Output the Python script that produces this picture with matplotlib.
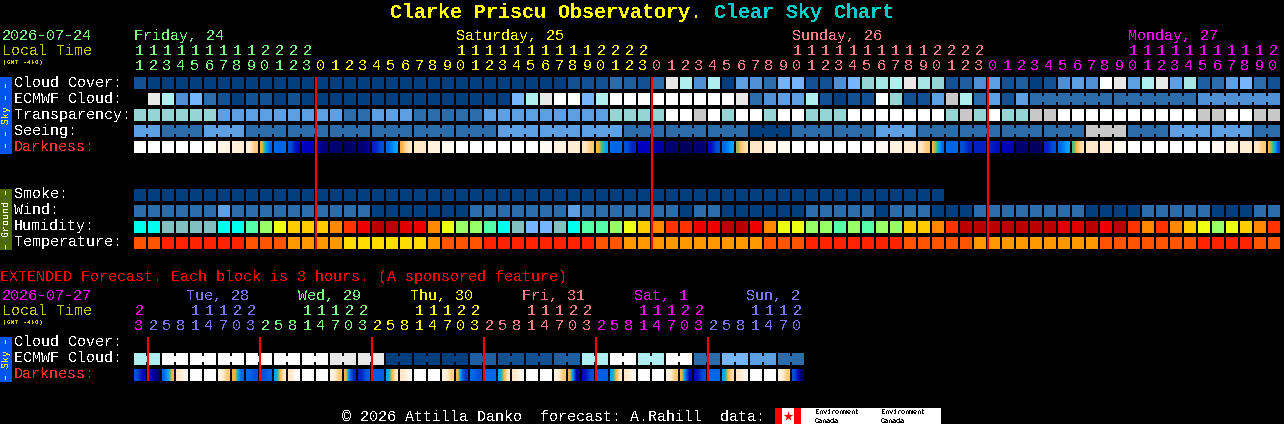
import matplotlib
matplotlib.use("Agg")
import matplotlib.pyplot as plt
from matplotlib.colors import LinearSegmentedColormap
from matplotlib.patches import Rectangle

plt.rcParams['font.family'] = ['Liberation Mono', 'DejaVu Sans Mono']
plt.rcParams['text.antialiased'] = False
plt.rcParams['text.hinting'] = 'native'
plt.rcParams['text.hinting_factor'] = 1

# ---- data ----
hours = [11, 12, 13, 14, 15, 16, 17, 18, 19, 20, 21, 22, 23,
         0, 1, 2, 3, 4, 5, 6, 7, 8, 9, 10, 11, 12, 13, 14, 15, 16, 17, 18, 19, 20, 21, 22, 23,
         0, 1, 2, 3, 4, 5, 6, 7, 8, 9, 10, 11, 12, 13, 14, 15, 16, 17, 18, 19, 20, 21, 22, 23,
         0, 1, 2, 3, 4, 5, 6, 7, 8, 9, 10, 11, 12, 13, 14, 15, 16, 17, 18, 19, 20]
ext_hours = [23,
             2, 5, 8, 11, 14, 17, 20, 23,
             2, 5, 8, 11, 14, 17, 20, 23,
             2, 5, 8, 11, 14, 17, 20, 23,
             2, 5, 8, 11, 14, 17, 20, 23,
             2, 5, 8, 11, 14, 17, 20, 23,
             2, 5, 8, 11, 14, 17, 20]

days = ["Friday, 24", "Saturday, 25", "Sunday, 26", "Monday, 27"]
day_label_cell = [0, 23, 47, 71]
ext_days = ["Tue, 28", "Wed, 29", "Thu, 30", "Fri, 31", "Sat, 1", "Sun, 2"]
ext_day_label_cell = [4, 12, 20, 28, 36, 44]

# levels index into sky_colors, -1 means no block
cloud_cover = [1, 0, 0, 0, 0, 0, 0, 0, 0, 0, 0, 0, 0, 0, 0, 0, 0, 0, 0, 0,
               0, 0, 0, 0, 0, 0, 0, 0, 0, 0, 0, 1, 1, 1, 3, 2, 1, 3, 11, 9,
               4, 9, 0, 5, 4, 3, 6, 6, 1, 1, 4, 6, 7, 8, 9, 11, 8, 7, 1, 2,
               4, 5, 1, 2, 0, 1, 4, 5, 4, 12, 11, 5, 9, 11, 5, 8, 2, 3, 5, 6,
               3, 1]
ecmwf_cloud = [-1, 11, 9, 4, 6, 3, 1, 0, 1, 1, 0, 1, 0, 0, 0, 0, 0, 0, 0, 0,
               0, 0, 0, 0, 0, 0, 0, 6, 9, 11, 12, 12, 6, 9, 12, 12, 12, 12, 12, 12,
               12, 12, 12, 11, 3, 4, 5, 5, 9, 1, 0, 1, 1, 12, 7, 1, 1, 5, 10, 9,
               3, 5, 1, 5, 3, 3, 3, 3, 3, 3, 3, 3, 3, 3, 3, 3, 4, 4, 4, 4,
               4, 4]
transparency = [7, 7, 7, 7, 7, 7, 5, 5, 5, 5, 5, 5, 5, 5, 5, 3, 3, 5, 5, 5,
                3, 3, 3, 3, 3, 5, 5, 5, 5, 5, 5, 5, 5, 5, 7, 7, 7, 7, 12, 12,
                10, 12, 7, 12, 12, 7, 12, 12, 7, 7, 7, 12, 12, 12, 12, 12, 12, 12, 7, 10,
                7, 12, 7, 7, 10, 10, 12, 12, 12, 12, 12, 12, 12, 12, 12, 12, 10, 10, 12, 12,
                10, 10]
seeing = [5, 5, 3, 3, 3, 5, 5, 5, 3, 3, 3, 3, 3, 3, 3, 3, 3, 3, 3, 3,
          3, 3, 3, 3, 3, 3, 5, 5, 5, 5, 5, 5, 5, 5, 5, 3, 3, 3, 3, 3,
          3, 3, 3, 3, 0, 0, 0, 3, 3, 3, 3, 3, 3, 5, 5, 5, 3, 3, 3, 3,
          3, 3, 3, 3, 3, 3, 3, 3, 10, 10, 10, 3, 3, 3, 5, 5, 5, 5, 5, 5,
          3, 3]
smoke = [0, 0, 0, 0, 0, 0, 0, 0, 0, 0, 0, 0, 0, 0, 0, 0, 0, 0, 0, 0,
         0, 0, 0, 0, 0, 0, 0, 0, 0, 0, 0, 0, 0, 0, 0, 0, 0, 0, 0, 0,
         0, 0, 0, 0, 0, 0, 0, 0, 0, 0, 0, 0, 0, 0, 0, 0, 0, 0]
wind = [3, 3, 3, 3, 3, 3, 5, 3, 3, 3, 3, 3, 3, 3, 3, 3, 3, 0, 0, 0,
        0, 0, 0, 0, 3, 3, 3, 3, 3, 3, 3, 5, 3, 3, 3, 3, 3, 3, 3, 0,
        3, 3, 0, 0, 0, 0, 0, 0, 3, 3, 3, 3, 3, 0, 3, 3, 3, 0, 0, 0,
        3, 3, 3, 3, 3, 3, 3, 3, 0, 0, 0, 0, 3, 3, 3, 3, 3, 0, 0, 0,
        3, 3]
humidity = [0, 0, 1, 1, 1, 1, 0, 0, 3, 4, 5, 6, 6, 6, 7, 8, 9, 10, 10, 11,
            9, 7, 5, 4, 4, 3, 0, 1, 2, 2, 1, 0, 3, 3, 4, 5, 6, 7, 8, 8,
            9, 9, 10, 10, 9, 7, 5, 5, 4, 4, 3, 4, 3, 4, 4, 6, 6, 7, 8, 10,
            10, 10, 10, 10, 10, 10, 11, 11, 10, 9, 10, 8, 7, 8, 7, 6, 5, 4, 5, 6,
            7, 8]
temperature = [1, 1, 0, 0, 0, 0, 0, 0, 1, 1, 1, 2, 2, 2, 2, 3, 3, 3, 3, 3,
               3, 2, 1, 1, 1, 0, 0, 0, 0, 0, 0, 0, 0, 1, 1, 2, 2, 2, 2, 2,
               2, 2, 2, 2, 2, 1, 1, 1, 0, 0, 0, 0, 0, 0, 0, 1, 1, 1, 1, 1,
               2, 2, 2, 2, 2, 2, 2, 2, 2, 1, 1, 1, 1, 1, 1, 1, 0, 0, 0, 0,
               1, 1]

# darkness per cell: 0 is full daylight, 1 is full night, read left to right inside a cell
darkness = [(0, 0), (0, 0), (0, 0), (0, 0), (0, 0), (0, .03), (.04, .06), (.07, .09), (.09, .2),
            (.25, .35, .42), (.42, .42), (.47, .6), (.6, .6), (.7, .82), (.85, .85), (.92, .85),
            (.85, .75), (.55, .47), (.42, .35), (.25, .16, .12), (.12, .12),
            (.06, .06), (.03, .03), (0, 0), (0, 0), (0, 0), (0, 0), (0, 0), (0, 0), (.03, .03),
            (.06, .06), (.09, .09), (.12, .2), (.25, .3, .35), (.42, .42), (.47, .55), (.6, .6),
            (.68, .68), (.85, .85), (.92, .92), (.85, .85), (.58, .47), (.42, .35), (.28, .18, .14),
            (.12, .12), (.06, .06), (.03, .03), (0, 0), (0, 0), (0, 0), (0, 0), (0, 0),
            (0, 0), (.03, .03), (.06, .06), (.09, .09), (.12, .2), (.25, .3, .35, .42), (.42, .42),
            (.47, .55), (.55, .55), (.55, .58), (.64, .64), (.85, .85), (.92, .92), (.55, .47),
            (.42, .35), (.3, .25, .18, .14), (.12, .12), (.09, .09), (.03, .03), (0, 0), (0, 0), (0, 0),
            (0, 0), (0, 0), (0, 0), (.03, .03), (.06, .06), (.09, .09), (.12, .2), (.25, .3, .35, .47)]

ext_ecmwf = [9, 9, 12, 12, 12, 12, 12, 12, 12, 12, 12, 12, 12, 12, 11, 11,
             11, 11, 0, 0, 0, 0, 0, 0, 2, 2, 1, 1, 1, 1, 2, 2,
             9, 9, 12, 12, 9, 9, 12, 12, 3, 3, 6, 6, 5, 5, 3, 3]
ext_darkness = [(.47, .6), (.58, .85), (.42, .35, .25), (.12, .03), (0, 0), (0, 0), (.06, .2), (.25, .42),
                (.42, .47), (.47, .42), (.35, .25, .12), (.12, 0), (0, 0), (0, 0), (.06, .2), (.25, .42, .55),
                (.55, .44), (.44, .44), (.35, .25, .12), (.12, .03), (0, 0), (0, 0), (.06, .18), (.25, .42, .52),
                (.42, .47), (.42, .42), (.35, .25, .12), (.12, .03), (0, 0), (0, 0), (.06, .2), (.25, .42, .75),
                (.58, .47), (.44, .44), (.35, .25, .12), (.12, .03), (0, 0), (0, 0), (.06, .2), (.25, .42, .62),
                (.58, .47), (.42, .42), (.35, .25, .15), (.12, .03), (0, 0), (0, 0), (.06, .2), (.47, .58, .92)]

# blocks that share one forecast value (first cell, last cell)
seeing_blocks = [(0, 1), (2, 4), (5, 7), (8, 10), (11, 13), (14, 16), (17, 19), (20, 22), (23, 25), (26, 28),
                 (29, 31), (32, 34), (35, 37), (38, 40), (41, 43), (44, 46), (47, 49), (50, 52), (53, 55),
                 (56, 58), (59, 61), (62, 64), (65, 67), (68, 70), (71, 73), (74, 76), (77, 79), (80, 81)]
ecmwf_blocks = [(64, 69), (70, 75), (76, 81)]
ext_blocks = [(0, 1), (2, 3), (4, 5), (6, 7), (8, 9), (10, 11), (12, 13), (14, 15), (16, 17), (18, 19),
              (20, 21), (22, 23), (24, 25), (26, 27), (28, 29), (30, 31), (32, 33), (34, 35), (36, 37),
              (38, 39), (40, 41), (42, 43), (44, 45), (46, 47)]

midnight_cells = [13, 37, 61]
ext_midnight_cells = [1, 9, 17, 25, 33, 41]

# ---- styles ----
sky_colors = ['#003e7e', '#135193', '#1f5f9f', '#2d6cab', '#4f8fd3', '#5d9fe3', '#76b5fb',
              '#95d5d5', '#a5e5e5', '#aeeeee', '#c8c8c8', '#e8e8e8', '#ffffff']
humidity_colors = ['#00ffee', '#80c0c0', '#76b5fb', '#55ffaa', '#99ff66', '#eeff11', '#ffcc00',
                   '#ff8800', '#ff3300', '#ee0000', '#bb0000', '#e00000']
temperature_colors = ['#ff2200', '#ff5500', '#ff9900', '#ffdd00']
dark_cmap = LinearSegmentedColormap.from_list('darkness', [
    (0, '#ffffff'), (.03, '#fffaf0'), (.06, '#fff3e0'), (.09, '#ffedd5'), (.12, '#ffe8c8'),
    (.2, '#ffc878'), (.25, '#ffb040'), (.3, '#40c080'), (.35, '#00a0ff'), (.42, '#0066e8'),
    (.47, '#0050d8'), (.55, '#0020c0'), (.6, '#0000c0'), (.68, '#0000a8'), (.75, '#000090'),
    (.85, '#000070'), (.92, '#000060'), (1, '#000050')])

GREEN = '#7fff7f'
YELLOW = '#ffff00'
SALMON = '#ff8080'
MAGENTA = '#ff00ff'
PERIWINKLE = '#7777ff'
DULL_YELLOW = '#c8c800'
LABEL_RED = '#ff3030'
day_colors = [GREEN, YELLOW, SALMON, MAGENTA]
ext_day_colors = [PERIWINKLE, GREEN, YELLOW, SALMON, MAGENTA, PERIWINKLE]

X0 = 134
PITCH = 14
SIZE = 12
FS = 10.8

fig = plt.figure(figsize=(12.84, 4.24), dpi=100, facecolor='black')
ax = fig.add_axes([0, 0, 1, 1])
ax.set_facecolor('black')


def cell_x(i):
    return X0 + PITCH * i


def draw_row(levels, palette, y):
    for i, level in enumerate(levels):
        if level < 0:
            continue
        ax.add_patch(Rectangle((cell_x(i), y), SIZE, SIZE, color=palette[level], lw=0))


def draw_bridges(levels, palette, blocks, y):
    # blocks of one value are joined by a narrower strip in the middle
    for first, last in blocks:
        for i in range(first, last):
            ax.add_patch(Rectangle((cell_x(i) + SIZE, y + 3), PITCH - SIZE, 6, color=palette[levels[i]], lw=0))


def draw_darkness(cells, y):
    for i, stops in enumerate(cells):
        ax.imshow([stops], cmap=dark_cmap, vmin=0, vmax=1, aspect='auto', interpolation='bilinear',
                  interpolation_stage='data', extent=(cell_x(i), cell_x(i) + SIZE, y + SIZE, y), zorder=2)


def label(x, y, s, color='white', size=FS, **kw):
    ax.text(x, y, s, color=color, fontsize=size, va='baseline', ha='left', **kw)


def draw_hours(values, colors, y_tens, y_units):
    for i, h in enumerate(values):
        x = cell_x(i) + 5
        if h >= 10:
            ax.text(x, y_tens, str(h // 10), color=colors[i], fontsize=FS, ha='center', va='baseline')
        ax.text(x, y_units, str(h % 10), color=colors[i], fontsize=FS, ha='center', va='baseline')


# title
label(390, 18, "Clarke Priscu Observatory.", color=YELLOW, size=14.4, fontweight='bold')
label(714, 18, "Clear Sky Chart", color='#00cccc', size=14.4, fontweight='bold')

# main header
label(2, 40, "2026-07-24", color=GREEN)
label(2, 55, "Local Time", color=DULL_YELLOW)
label(3, 64, "(GMT -4+0)", color=DULL_YELLOW, size=4.4, fontweight='bold')
for name, cell, col in zip(days, day_label_cell, day_colors):
    label(cell_x(cell), 40, name, color=col)
hour_colors = []
day_no = 0
for i, h in enumerate(hours):
    if h == 0:
        day_no += 1
    hour_colors.append(day_colors[day_no])
draw_hours(hours, hour_colors, 55, 70)

# sky rows
draw_row(cloud_cover, sky_colors, 77)
draw_row(ecmwf_cloud, sky_colors, 93)
draw_bridges(ecmwf_cloud, sky_colors, ecmwf_blocks, 93)
draw_row(transparency, sky_colors, 109)
draw_row(seeing, sky_colors, 125)
draw_bridges(seeing, sky_colors, seeing_blocks, 125)
draw_darkness(darkness, 141)

# ground rows
draw_row(smoke, sky_colors, 189)
draw_row(wind, sky_colors, 205)
draw_row(humidity, humidity_colors, 221)
draw_row(temperature, temperature_colors, 237)

for name, y in [("Cloud Cover:", 87), ("ECMWF Cloud:", 103), ("Transparency:", 119), ("Seeing:", 135),
                ("Smoke:", 198), ("Wind:", 214), ("Humidity:", 230), ("Temperature:", 246)]:
    label(14, y, name)
label(14, 151, "Darkness:", color=LABEL_RED)

# side bars
ax.add_patch(Rectangle((0, 77), 12, 77, color='#0055ee', lw=0))
ax.add_patch(Rectangle((0, 189), 12, 61, color='#4f6b00', lw=0))
ax.add_patch(Rectangle((0, 337), 12, 45, color='#0055ee', lw=0))
ax.text(6, 115, "– – Sky – –", color=YELLOW, fontsize=7.2, rotation=90, ha='center', va='center')
ax.text(6, 219, "– Ground –", color='white', fontsize=7.2, rotation=90, ha='center', va='center')
ax.text(6, 359, "– Sky –", color=YELLOW, fontsize=7.2, rotation=90, ha='center', va='center')

for c in midnight_cells:
    ax.plot([cell_x(c), cell_x(c)], [77, 249], color='#ff0000', lw=1.5, solid_capstyle='butt', zorder=3)

# extended forecast
label(0, 281, "EXTENDED Forecast. Each block is 3 hours. (A sponsored feature)", color='#ff0000')
label(2, 300, "2026-07-27", color=MAGENTA)
label(2, 315, "Local Time", color=DULL_YELLOW)
label(3, 324, "(GMT -4+0)", color=DULL_YELLOW, size=4.4, fontweight='bold')
for name, cell, col in zip(ext_days, ext_day_label_cell, ext_day_colors):
    label(cell_x(cell) - 4, 300, name, color=col)
ext_colors = [MAGENTA]
day_no = -1
for h in ext_hours[1:]:
    if h == 2:
        day_no += 1
    ext_colors.append(ext_day_colors[day_no])
draw_hours(ext_hours, ext_colors, 315, 330)

label(14, 346, "Cloud Cover:")
label(14, 362, "ECMWF Cloud:")
label(14, 378, "Darkness:", color=LABEL_RED)
draw_row(ext_ecmwf, sky_colors, 353)
draw_bridges(ext_ecmwf, sky_colors, ext_blocks, 353)
draw_darkness(ext_darkness, 369)
for c in ext_midnight_cells:
    ax.plot([cell_x(c), cell_x(c)], [337, 381], color='#ff0000', lw=1.5, solid_capstyle='butt', zorder=3)

# footer
label(342, 421, "© 2026 Attilla Danko  forecast: A.Rahill  data:")
ax.add_patch(Rectangle((775, 408), 166, 16, color='white', lw=0))
ax.add_patch(Rectangle((775, 408), 7, 16, color='#ff0000', lw=0))
ax.add_patch(Rectangle((794, 408), 7, 16, color='#ff0000', lw=0))
ax.scatter([788], [415.5], marker='*', s=55, color='#ff0000', lw=0, zorder=3)
for x in [815, 881]:
    label(x, 414, "Environment", color='black', size=5)
    label(x, 423, "Canada", color='black', size=5)

ax.set_xlim(0, 1284)
ax.set_ylim(424, 0)
ax.axis('off')
fig.savefig('out.png', dpi=100, facecolor='black')
